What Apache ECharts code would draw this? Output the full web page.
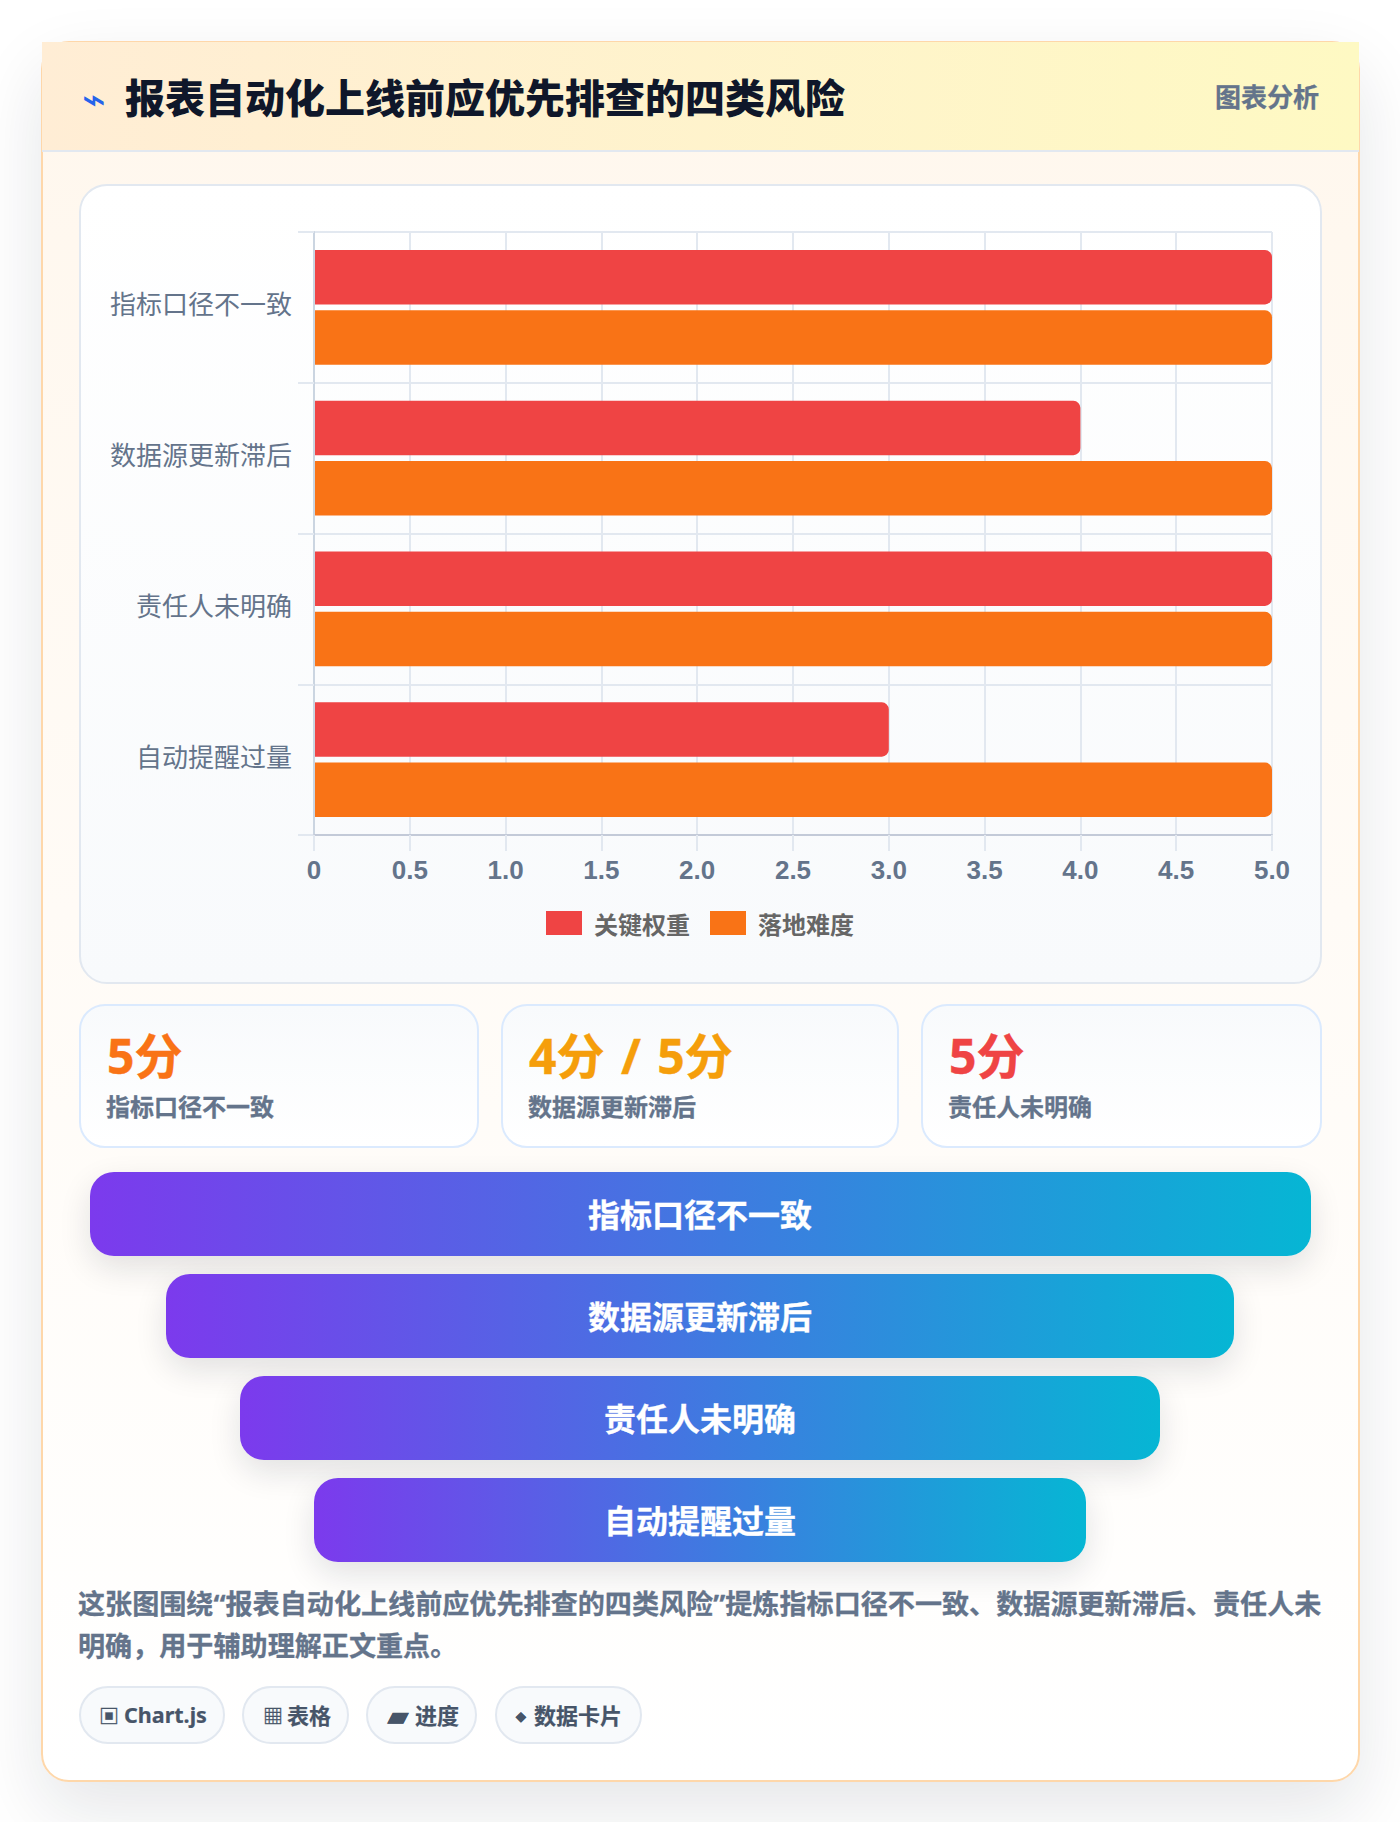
<!DOCTYPE html>
<html lang="zh-CN"><head><meta charset="utf-8">
<script src="https://cdn.jsdelivr.net/npm/echarts@6/dist/echarts.min.js"></script>
<style>
*{box-sizing:border-box}
html,body{margin:0;padding:0;width:1400px;height:1822px;overflow:hidden;background:#fff;font-family:"Noto Sans","Noto Sans CJK SC",sans-serif}
.abs{position:absolute}
#card{left:41px;top:41px;width:1319px;height:1741px;border:2px solid #fed7aa;border-radius:28px;background:linear-gradient(180deg,#fff7ed 0%,#ffffff 100%);box-shadow:0 28px 70px rgba(15,23,42,.11)}
#head{left:42px;top:42px;width:1317px;height:110px;background:linear-gradient(90deg,#ffedd5,#fef9c3);border-bottom:2px solid #e2e8f0}
#icon{left:82px;top:77px;font:400 40px/44px "DejaVu Sans";color:#2563eb}
#title{left:125px;top:70px;font-weight:900;font-size:40px;line-height:56px;color:#0f172a;white-space:nowrap}
#badge{right:81px;top:78px;font-weight:700;font-size:26px;line-height:38px;color:#64748b;white-space:nowrap;-webkit-text-stroke:.3px #64748b}
#panel{left:79px;top:184px;width:1243px;height:800px;border:2px solid #e2e8f0;border-radius:28px;background:linear-gradient(180deg,#fff,#f8fafc)}
#chart{left:79px;top:184px;width:1242px;height:800px}
.kpi{top:1004px;height:144px;border:2px solid #dbeafe;border-radius:26px;background:linear-gradient(180deg,#f8fafc,#fff)}
.kpi b{position:absolute;left:26px;top:17px;font-size:48px;line-height:66px;white-space:nowrap;word-spacing:4px;-webkit-text-stroke:.4px currentColor}
.kpi span{position:absolute;left:25px;top:83px;font-size:24px;line-height:36px;font-weight:700;color:#64748b;white-space:nowrap;-webkit-text-stroke:.3px #64748b}
.fun{height:84px;border-radius:24px;background:linear-gradient(90deg,#7c3aed,#06b6d4);color:#fff;font-weight:700;font-size:32px;display:flex;align-items:center;justify-content:center;box-shadow:0 12px 32px rgba(15,23,42,.12);padding-bottom:2px;-webkit-text-stroke:.3px #fff}
#note{left:78px;top:1583px;width:1245px;font-weight:700;font-size:27.1px;line-height:42px;color:#64748b;-webkit-text-stroke:.3px #64748b}
.tag{top:1686px;height:58px;border:2px solid #e2e8f0;border-radius:29px;background:#f8fafc;color:#475569;font-weight:700;font-size:22px;white-space:nowrap}
.tag i,.tag span{position:absolute;top:0;line-height:54px;font-style:normal}
.tag span{-webkit-text-stroke:.2px #475569}
.tag i{-webkit-text-stroke:.3px #475569}
.t0 i{left:18px;top:2px;font-size:20px}.t0 span{left:43px;font-size:21.5px}
.t1 i{left:19px;top:2px;font-size:20px}.t1 span{left:43px}
.t2 i{left:20px;font-size:26px}.t2 span{left:47px}
.t3 i{left:19px;font-size:27px}.t3 span{left:37px}
</style></head><body>
<div id="card" class="abs"></div>
<div id="head" class="abs"></div>
<div id="icon" class="abs"></div>
<div id="title" class="abs"></div>
<div id="badge" class="abs"></div>
<div id="panel" class="abs"></div>
<div id="chart" class="abs"></div>
<div id="extras"></div>
<div id="note" class="abs"></div>
<script>
const titleText='报表自动化上线前应优先排查的四类风险';
const badgeText='图表分析';
const iconText='⌁';
const categories=['指标口径不一致','数据源更新滞后','责任人未明确','自动提醒过量'];
const seriesNames=['关键权重','落地难度'];
const weightValues=[5,4,5,3];
const difficultyValues=[5,5,5,5];
const xTickLabels=['0','0.5','1.0','1.5','2.0','2.5','3.0','3.5','4.0','4.5','5.0'];
const kpiValues=['5分','4分 / 5分','5分'];
const kpiLabels=['指标口径不一致','数据源更新滞后','责任人未明确'];
const kpiColors=['#f97316','#f59e0b','#ef4444'];
const funnelLabels=['指标口径不一致','数据源更新滞后','责任人未明确','自动提醒过量'];
const funnelWidths=[1221,1068,920,772];
const noteText='这张图围绕“报表自动化上线前应优先排查的四类风险”提炼指标口径不一致、数据源更新滞后、责任人未明确，用于辅助理解正文重点。';
const tagIcons=['▣','▦','▰','⬩'];
const tagLabels=['Chart.js','表格','进度','数据卡片'];

document.getElementById('icon').textContent=iconText;
document.getElementById('title').textContent=titleText;
document.getElementById('badge').textContent=badgeText;
document.getElementById('note').textContent=noteText;
const extras=document.getElementById('extras');
function add(cls,css,html){const d=document.createElement('div');d.className='abs '+cls;d.style.cssText=css;d.innerHTML=html;extras.appendChild(d);}
[[79,400],[501,398],[921,401]].forEach((p,i)=>add('kpi',`left:${p[0]}px;width:${p[1]}px`,`<b style="color:${kpiColors[i]}">${kpiValues[i]}</b><span>${kpiLabels[i]}</span>`));
[1172,1274,1376,1478].forEach((t,i)=>add('fun',`left:${700-funnelWidths[i]/2}px;width:${funnelWidths[i]}px;top:${t}px`,funnelLabels[i]));
[[79,146],[242,107],[366,111],[495,147]].forEach((p,i)=>add('tag t'+i,`left:${p[0]}px;width:${p[1]}px`,`<i>${tagIcons[i]}</i><span>${tagLabels[i]}</span>`));

const chart=echarts.init(document.getElementById('chart'),null,{renderer:'svg'});
const font='"Noto Sans CJK SC","Noto Sans",sans-serif';
const barRadius=[0,7,7,0];
chart.setOption({
  animation:false,
  grid:{left:235,right:49,top:48,height:603,containLabel:false},
  legend:{top:722,left:'center',itemWidth:36,itemHeight:24,itemGap:20,icon:'rect',
    data:seriesNames,selectedMode:false,
    textStyle:{color:'#666',fontSize:24,fontWeight:700,fontFamily:font,padding:[0,0,0,7]}},
  xAxis:{type:'value',min:0,max:5,interval:0.5,position:'bottom',z:4,
    axisLine:{show:true,lineStyle:{color:'#c3cad8',width:2}},
    axisTick:{show:true,length:16,lineStyle:{color:'#e2e8f0',width:2}},
    splitLine:{show:false},
    axisLabel:{margin:22,color:'#64748b',fontSize:26,fontWeight:700,fontFamily:'"Liberation Sans",Arial,sans-serif',
      showMinLabel:true,showMaxLabel:true,hideOverlap:false,
      formatter:v=>xTickLabels[Math.round(v/0.5)]}},
  yAxis:{type:'category',inverse:true,data:categories,z:3,
    axisLine:{show:true,lineStyle:{color:'#cbd5e1',width:2}},
    axisTick:{show:true,length:16,lineStyle:{color:'#e2e8f0',width:2}},
    splitLine:{show:true,lineStyle:{color:'#e2e8f0',width:2}},
    axisLabel:{margin:22,color:'#64748b',fontSize:26,fontFamily:font,verticalAlign:'bottom',lineHeight:9}},
  series:[
    {name:seriesNames[0],type:'bar',data:weightValues,barWidth:54.3,barGap:'11%',itemStyle:{color:'#ef4444',borderRadius:barRadius}},
    {name:seriesNames[1],type:'bar',data:difficultyValues,barWidth:54.3,barGap:'11%',itemStyle:{color:'#f97316',borderRadius:barRadius}}
  ]
});
// second, hidden-label value axis supplies the vertical grid lines beneath the bars
chart.setOption({xAxis:[chart.getOption().xAxis[0],{type:'value',min:0,max:5,interval:0.5,position:'bottom',z:0,
  axisLine:{show:false},axisTick:{show:false},axisLabel:{show:false},
  splitLine:{show:true,lineStyle:{color:'#e2e8f0',width:2}}}]});
</script></body></html>
